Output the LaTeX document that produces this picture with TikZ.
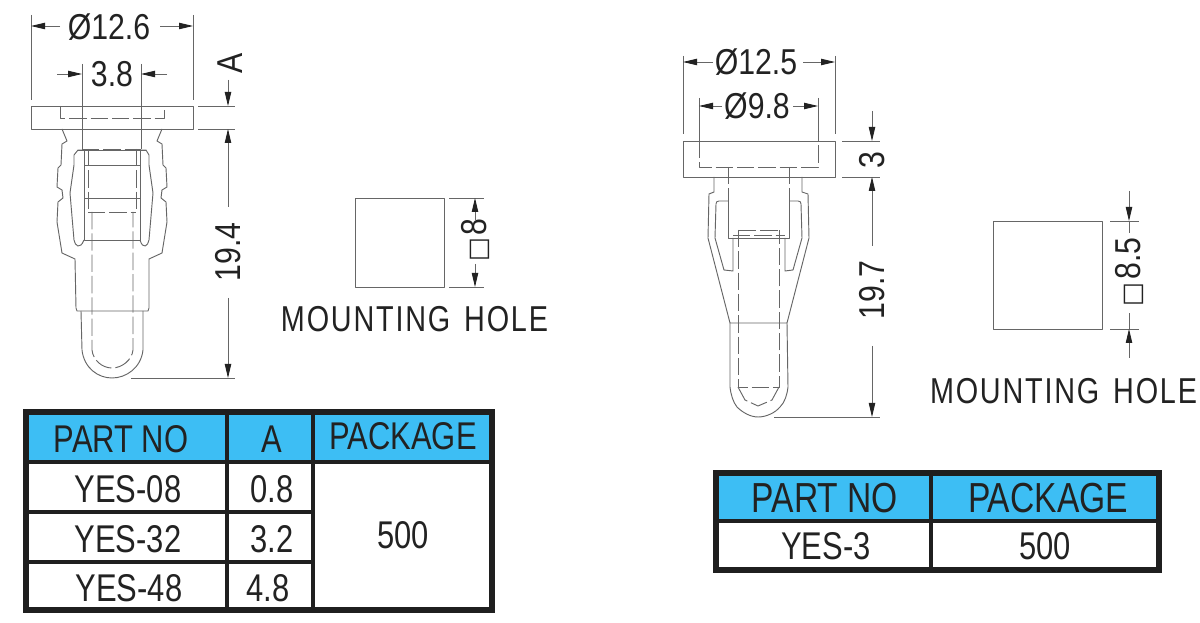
\documentclass[tikz,border=0pt]{standalone}
\usepackage{fontspec}
\usetikzlibrary{arrows.meta}
\setmainfont{Liberation Sans}
\newfontfamily\dimf[FakeStretch=.84]{Liberation Sans}
\newfontfamily\holef[FakeStretch=.8,LetterSpace=5]{Liberation Sans}
\newfontfamily\tabf[FakeStretch=.8]{Liberation Sans}
\newfontfamily\symf{DejaVu Sans}
\definecolor{lin}{HTML}{666666}
\definecolor{ink}{HTML}{222222}
\definecolor{head}{HTML}{3DBEF4}
\definecolor{frame}{HTML}{1F1F1F}
\newcommand{\sq}{{\symf\fontsize{19}{19}\selectfont\symbol{"25A1}}}
\tikzset{
  x=0.75pt,y=-0.75pt,
  every node/.style={inner sep=0pt,outer sep=0pt,text=ink},
  ln/.style={draw=lin,line width=.7pt,line join=round},
  dsh/.style={ln,dash pattern=on 13pt off 3pt},
  dim/.style={draw=lin,line width=.6pt,>={Triangle[length=10.5pt,width=4.8pt,fill=ink,color=ink]},fill=none},
  dimtxt/.style={font=\dimf\fontsize{27}{27}\selectfont},
  holetxt/.style={font=\holef\fontsize{27}{27}\selectfont},
  tabtxt/.style={font=\tabf\fontsize{29}{29}\selectfont},
  tabbig/.style={font=\tabf\fontsize{31.5}{32}\selectfont},
  frm/.style={draw=frame,line width=4.6pt},
  grd/.style={draw=frame,line width=2.3pt},
}
\begin{document}
\begin{tikzpicture}
\useasboundingbox (0,0) rectangle (1200,623);
\fill[white] (0,0) rectangle (1200,623);

%% ---------- LEFT PART ----------
\draw[ln] (31,106) rectangle (193,129);
\draw[dsh] (60,106) -- (60,118) -- (164,118) -- (164,106);
% outer profile
\draw[ln] (62,129) -- (67,141) -- (62,144) -- (61,165) -- (58,168) -- (57,187) -- (62,190) -- (63,198) -- (58,202) -- (57,222) -- (62,253) -- (75,259) -- (76,308) -- (77,311) -- (148,311) -- (149,308) -- (149,259) -- (162,253) -- (167,222) -- (166,202) -- (161,198) -- (162,190) -- (167,187) -- (166,168) -- (163,165) -- (162,144) -- (157,141) -- (162,129);
% tip
\draw[ln] (81,311) -- (82,350) .. controls (84,368) and (98,378) .. (112,378) .. controls (126,378) and (141,368) .. (143,350) -- (143,311);
% slots
\draw[ln] (84,150) -- (78,150) -- (74,155) -- (74,165) -- (70,193) -- (74,240) .. controls (75,246) and (80,250) .. (84,240);
\draw[ln] (140,150) -- (146,150) -- (149,155) -- (149,165) -- (153,193) -- (149,240) .. controls (148,246) and (143,250) .. (140,240);
\draw[ln] (78,150) -- (146,150);
\draw[ln] (84,150) -- (84,240) -- (140,240) -- (140,150);
\draw[ln] (84,165) -- (140,165);
\draw[ln] (84,198) -- (140,198);
% hidden
\draw[ln] (82,129) -- (82,149);
\draw[ln] (141,129) -- (141,149);
\draw[dsh] (82,149) -- (141,149);
\draw[dsh] (88,149) -- (88,212);
\draw[dsh] (136,149) -- (136,212);
\draw[dsh] (88,212) -- (136,212);
\draw[dsh] (92,212) -- (92,350) .. controls (93,360) and (102,368) .. (112,368) .. controls (122,368) and (132,360) .. (133,350) -- (133,212);
% dimensions
\draw[dim] (31,15) -- (31,100);
\draw[dim] (193,15) -- (193,100);
\draw[dim,->] (60,26) -- (31,26);
\draw[dim,->] (160,26) -- (193,26);
\node[dimtxt] (d126) at (109,27) {Ø12.6};
\draw[dim] (82,64) -- (82,129);
\draw[dim] (141,64) -- (141,129);
\draw[dim,->] (57,74) -- (82,74);
\draw[dim,->] (167,74) -- (141,74);
\node[dimtxt] (d38) at (112,74) {3.8};
\draw[dim] (198,106) -- (235,106);
\draw[dim] (198,129) -- (235,129);
\draw[dim,->] (228,80) -- (228,106);
\draw[dim,->] (228,207) -- (228,129);
\draw[dim,->] (228,298) -- (228,378);
\draw[dim] (131,378) -- (235,378);
\node[dimtxt,rotate=90] (dA) at (230,63) {A};
\node[dimtxt,rotate=90] (d194) at (228,252) {19.4};
% hole
\draw[ln] (355,198) rectangle (444,287);
\draw[dim] (449,198) -- (484,198);
\draw[dim] (449,287) -- (484,287);
\draw[dim,->] (475,220) -- (475,198);
\draw[dim,->] (475,264) -- (475,287);
\node[dimtxt,rotate=90] (d8) at (475,240) {\sq\hspace{2pt}8};
\node[holetxt] (mh1) at (414.5,319) {MOUNTING\hspace{3pt} HOLE};

%% ---------- LEFT TABLE ----------
\fill[head] (26,412) rectangle (492,462);
\draw[grd] (26,462) -- (492,462);
\draw[grd] (26,512) -- (313,512);
\draw[grd] (26,562) -- (313,562);
\draw[grd] (227,412) -- (227,610);
\draw[grd] (313,412) -- (313,610);
\draw[frm] (26,412) rectangle (492,610);
\node[tabtxt] (t1) at (121,439) {PART NO};
\node[tabtxt] (t2) at (272,439) {A};
\node[tabtxt] (t3) at (403,436) {PACKAGE};
\node[tabtxt] (t4) at (128,489) {YES-08};
\node[tabtxt] (t5) at (272,489) {0.8};
\node[tabtxt] (t6) at (128,539) {YES-32};
\node[tabtxt] (t7) at (272,539) {3.2};
\node[tabtxt] (t8) at (129,588) {YES-48};
\node[tabtxt] (t9) at (268,588) {4.8};
\node[tabtxt] (t10) at (403,535) {500};

%% ---------- RIGHT PART ----------
\draw[ln] (683,141) rectangle (835,177);
\draw[dsh] (699,141) -- (699,167) -- (818,167) -- (818,141);
% outer
\draw[ln] (714,177) -- (714,192) -- (709,194) -- (708,238) -- (730,323) -- (787,323) -- (809,238) -- (808,194) -- (802,192) -- (802,177);
% tip
\draw[ln] (730,323) -- (730,387) .. controls (731,395) and (733,402) .. (737,407) .. controls (743,413) and (751,417) .. (758,417) .. controls (766,417) and (775,413) .. (780,407) .. controls (785,402) and (787,395) .. (788,387) -- (787,323);
% slots
\draw[ln] (728,201) -- (719,201) .. controls (717,201) and (716,202) .. (716,204) -- (715,238) -- (724,270) -- (733,271) -- (733,238);
\draw[ln] (789,201) -- (798,201) .. controls (800,201) and (801,202) .. (801,204) -- (802,238) -- (793,270) -- (785,271) -- (785,238);
\draw[ln] (728,201) -- (728,238) -- (789,238) -- (789,201);
% hidden
\draw[dsh] (728,167) -- (728,201);
\draw[dsh] (789,167) -- (789,201);
\draw[dsh] (739,230) -- (778,230);
\draw[dsh] (733,235) -- (785,235);
\draw[dsh] (738,230) -- (738,387) -- (779,387) -- (779,230);
\draw[dsh] (738,387) -- (745,400) -- (758,406) -- (772,400) -- (779,387);
% dimensions
\draw[dim] (683,56) -- (683,134);
\draw[dim] (835,56) -- (835,134);
\draw[dim,->] (713,62) -- (683,62);
\draw[dim,->] (803,62) -- (835,62);
\node[dimtxt] (d125) at (756,62) {Ø12.5};
\draw[dim] (699,98) -- (699,141);
\draw[dim] (818,98) -- (818,141);
\draw[dim,->] (722,106) -- (699,106);
\draw[dim,->] (793,106) -- (818,106);
\node[dimtxt] (d98) at (757,106) {Ø9.8};
\draw[dim] (842,141) -- (880,141);
\draw[dim] (842,177) -- (880,177);
\draw[dim,->] (872,111) -- (872,141);
\draw[dim,->] (872,246) -- (872,177);
\draw[dim,->] (872,346) -- (872,417);
\draw[dim] (774,417) -- (880,417);
\node[dimtxt,rotate=90] (d3) at (872,160) {3};
\node[dimtxt,rotate=90] (d197) at (872,290) {19.7};
% hole
\draw[ln] (993,221) rectangle (1102,329);
\draw[dim] (1110,221) -- (1139,221);
\draw[dim] (1110,329) -- (1139,329);
\draw[dim,->] (1129,191) -- (1129,221);
\draw[dim] (1129,221) -- (1129,233);
\draw[dim,->] (1129,358) -- (1129,329);
\draw[dim] (1129,329) -- (1129,313);
\node[dimtxt,rotate=90] (d85) at (1129,272) {\sq\hspace{2pt}8.5};
\node[holetxt] (mh2) at (1063.5,391) {MOUNTING\hspace{3pt} HOLE};

%% ---------- RIGHT TABLE ----------
\fill[head] (716,473) rectangle (1159,521);
\draw[grd] (716,521) -- (1159,521);
\draw[grd] (931,473) -- (931,570);
\draw[frm] (716,473) rectangle (1159,570);
\node[tabbig] (r1) at (825,498) {PART NO};
\node[tabbig] (r2) at (1048,498) {PACKAGE};
\node[tabtxt] (r3) at (826,546) {YES-3};
\node[tabtxt] (r4) at (1045,546) {500};
\end{tikzpicture}
\end{document}
